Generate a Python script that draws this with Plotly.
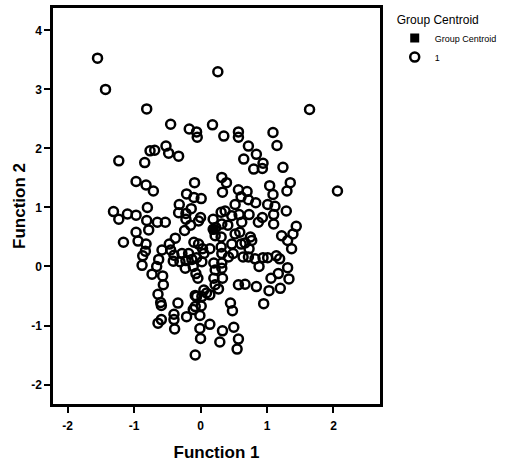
import plotly.graph_objects as go

# Discriminant scores (Function 1, Function 2) for group "1"
func1 = [-1.55, -1.43, 0.26, -0.81, 1.64, -0.45, -0.17, -0.06, -0.05, 0.18,
         0.35, 0.57, 0.57, 1.09, 1.15, 0.72, 0.84, 0.65, 0.94, 0.93,
         0.80, 1.24, -0.52, -0.69, -0.76, -0.48, -0.33, -1.23, -0.84, -0.97,
         -0.82, -0.71, -0.09, 0.32, 0.39, 0.33, 0.57, 0.70, 1.04, 1.09,
         1.35, 1.30, 2.06, -0.21, -0.10, 0.01, 0.61, 0.72, 0.83, 0.52,
         1.01, 1.12, -0.32, -0.80, -0.14, -0.22, -1.31, -1.23, -1.10, -0.97,
         -0.81, -0.65, -0.53, -0.78, -0.03, 0.31, 0.37, 0.47, 0.62, 0.73,
         0.87, 0.93, 1.10, 1.29, 1.10, 0.23, 0.22, -0.24, 0.59, 0.75,
         0.31, 0.31, 1.44, 1.39, 1.22, 1.31, 1.37, -0.97, -0.94, -1.16,
         -0.82, -0.38, -0.10, -0.03, 0.03, 0.14, 0.47, 0.61, 0.73, 0.72,
         0.82, 0.94, 1.01, 1.14, 1.19, 0.88, -0.58, -0.45, -0.83, -0.87,
         -0.63, -0.88, -0.66, -0.41, -0.31, -0.22, -0.13, -0.23, -0.06, 0.02,
         0.20, 0.32, 0.22, 0.32, 0.42, 0.20, 0.33, 0.22, -0.07, -0.04,
         -0.73, -0.57, -0.56, -0.64, -0.60, -0.59, -0.34, -0.06, 0.05, 0.14,
         0.02, -0.11, 0.01, -0.21, -0.01, -0.40, -0.40, -0.39, -0.64, -0.59,
         0.14, -0.01, 0.00, 0.33, 0.29, 0.50, 0.57, 0.55, -0.08, 0.57,
         0.67, 0.84, 0.45, 0.48, 1.03, 1.20, 0.95, 1.06, 1.17, 1.31,
         1.33, -0.33, -0.22, -0.40, -0.28, -0.18, 0.58, 0.00, 0.32, 0.32,
         0.49, 0.64, 0.19, 0.19, 0.77, -0.11, -0.08, -0.08, 0.09, 0.27,
         0.52, 0.41, -0.47, -0.15, 0.67, 0.05]
func2 = [3.53, 3.00, 3.30, 2.67, 2.66, 2.41, 2.33, 2.28, 2.19, 2.40,
         2.21, 2.28, 2.19, 2.27, 2.05, 2.04, 1.90, 1.82, 1.75, 1.66,
         1.65, 1.68, 2.04, 1.97, 1.96, 1.92, 1.87, 1.79, 1.76, 1.44,
         1.38, 1.28, 1.42, 1.51, 1.42, 1.26, 1.30, 1.27, 1.37, 1.22,
         1.42, 1.28, 1.28, 1.23, 1.17, 1.15, 1.18, 1.13, 1.08, 1.05,
         1.05, 1.02, 1.05, 1.00, 0.98, 0.90, 0.93, 0.80, 0.89, 0.87,
         0.78, 0.75, 0.75, 0.62, 0.77, 0.92, 0.94, 0.86, 0.75, 0.88,
         0.75, 0.83, 0.88, 0.94, 0.72, 0.66, 0.52, 0.61, 0.58, 0.50,
         0.50, 0.33, 0.68, 0.55, 0.52, 0.44, 0.30, 0.58, 0.43, 0.41,
         0.38, 0.48, 0.41, 0.38, 0.30, 0.30, 0.38, 0.38, 0.30, 0.16,
         0.13, 0.15, 0.15, 0.18, 0.13, 0.00, 0.28, 0.28, 0.26, 0.18,
         0.12, 0.02, 0.00, 0.09, 0.08, 0.10, 0.12, -0.03, 0.15, 0.08,
         0.06, 0.06, -0.06, -0.03, 0.16, -0.20, -0.20, -0.31, -0.12, -0.20,
         -0.13, -0.16, -0.31, -0.47, -0.61, -0.66, -0.62, -0.51, -0.40, -0.48,
         -0.51, -0.73, -0.67, -0.85, -0.83, -0.81, -0.90, -1.06, -0.96, -0.90,
         -0.98, -1.05, -1.22, -1.09, -1.28, -1.03, -1.23, -1.40, -1.50, -0.31,
         -0.30, -0.34, -0.62, -0.75, -0.41, -0.37, -0.63, -0.20, -0.12, -0.02,
         -0.21, 0.91, 0.80, 0.19, 0.22, 0.22, 0.88, 0.83, 0.72, 0.22,
         0.22, 0.16, 0.80, 0.63, 0.44, 0.00, -0.49, -0.68, -0.45, -0.38,
         0.55, 0.70, 0.38, 0.70, 0.40, 0.22]

centroid_f1 = [0.20]
centroid_f2 = [0.62]

x_ticks = [-2, -1, 0, 1, 2]
y_ticks = [-2, -1, 0, 1, 2, 3, 4]

FONT = "Liberation Sans, Arial, sans-serif"

fig = go.Figure()
fig.add_trace(go.Scatter(
    x=centroid_f1, y=centroid_f2, mode="markers", name="Group Centroid",
    marker=dict(symbol="square", size=9, color="black"),
))
fig.add_trace(go.Scatter(
    x=func1, y=func2, mode="markers", name="1",
    marker=dict(symbol="circle-open", size=9, color="black",
                line=dict(width=2.5, color="black")),
))

axis_common = dict(
    showgrid=False, zeroline=False, showline=True, linecolor="black",
    linewidth=2.5, mirror=True, ticks="outside", ticklen=6, tickwidth=2,
    tickcolor="black", tickfont=dict(family=FONT, size=12, color="black"),
)
fig.update_xaxes(range=[-2.22, 2.70], tickvals=x_ticks,
                 ticktext=["<b>%d</b>" % v for v in x_ticks],
                 ticklabelstandoff=3,
                 title=dict(text="<b>Function 1</b>", font=dict(family=FONT, size=17, color="black"), standoff=14),
                 **axis_common)
fig.update_yaxes(range=[-2.33, 4.38], tickvals=y_ticks,
                 ticktext=["<b>%d</b>" % v for v in y_ticks],
                 title=dict(text="<b>Function 2</b>", font=dict(family=FONT, size=17, color="black"), standoff=2),
                 **axis_common)

fig.update_layout(
    width=507, height=464,
    margin=dict(l=53, r=124, t=5, b=56),
    plot_bgcolor="white", paper_bgcolor="white",
    showlegend=True,
    legend=dict(
        x=1.045, y=1.0, xanchor="left", yanchor="top",
        title=dict(text="Group Centroid", font=dict(family=FONT, size=12, color="black")),
        font=dict(family=FONT, size=9, color="black"),
        itemwidth=30, tracegroupgap=0, bgcolor="rgba(0,0,0,0)",
    ),
    font=dict(family=FONT, color="black"),
)

fig.write_html("out.html")
